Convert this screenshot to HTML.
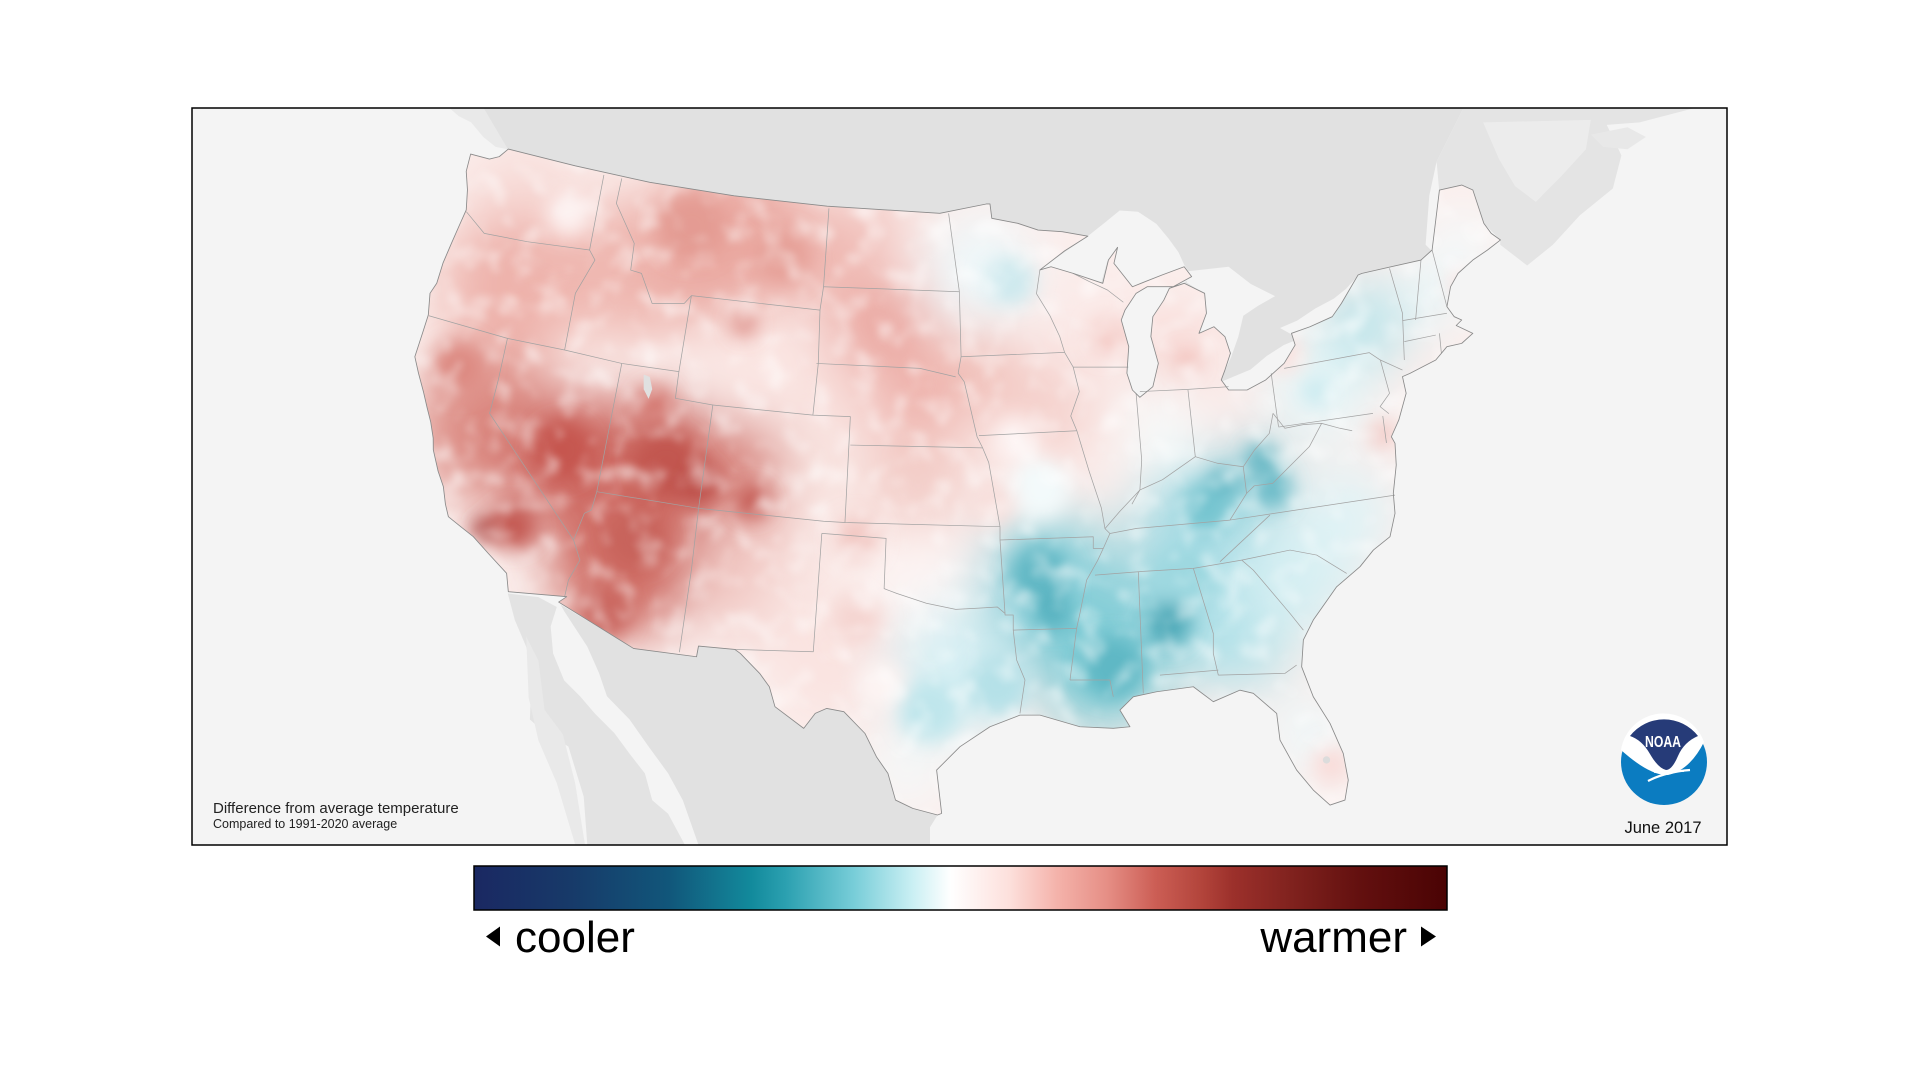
<!DOCTYPE html>
<html><head><meta charset="utf-8"><style>
html,body{margin:0;padding:0;background:#fff;width:1920px;height:1080px;overflow:hidden}
svg{display:block}
</style></head><body>
<svg width="1920" height="1080" viewBox="0 0 1920 1080" xmlns="http://www.w3.org/2000/svg">
<defs>
<clipPath id="frameclip"><rect x="156.9" y="88.26" width="1254.4" height="602.3"/></clipPath>
<clipPath id="usclip"><path d="M384.6,125.9 L400,130 L408,128 L415.4,121.8 L470,135.5 L531,149 L600,160 L676,168.5 L768,174.3 L806,166.7 L809,166.7 L810.5,178.4 L831.7,182.5 L848.3,188 L868,189.3 L889,193 L870,205 L849.8,220.6 L858.9,218 L877,223.4 L901.2,231.5 L905.8,212.5 L913.3,202.1 L910.3,215.2 L925.4,234.3 L949.6,224.7 L967.7,218 L973.8,226.1 L958.7,234.3 L937.5,234.3 L928.4,239.7 L919.4,253.3 L916.3,261.5 L922.4,283.3 L920.9,305 L925.4,318.7 L931.5,324.7 L942.1,316 L946.6,296.9 L940.5,275.1 L942.1,258.8 L951.1,245.2 L955.6,235.6 L967.7,231.5 L984.4,239.7 L985.9,256 L979.8,272.4 L992,267 L1001,275.1 L1005.5,288.7 L1001,302.4 L998,310.5 L1004,318.7 L1019.1,318.7 L1034.3,310.5 L1049.4,296.9 L1058.4,281.9 L1055.4,272.4 L1070.5,267 L1088.7,258.8 L1096.2,247.9 L1109.8,224.7 L1113,223.4 L1161.2,212.5 L1170.3,204.3 L1176.3,155.3 L1194.5,151.2 L1203.6,155.3 L1212.6,182.5 L1218.6,190.7 L1226.2,196.1 L1215.6,204.3 L1203.6,212.5 L1191.5,223.4 L1185.4,234.3 L1182.4,250.6 L1188.4,258.8 L1194.5,261.5 L1190,266 L1203.6,272.4 L1194.5,280.6 L1182.4,283.3 L1173.3,294.2 L1152.2,305.1 L1146.1,307.8 L1149.1,321.4 L1143.1,343.2 L1137,356.9 L1140,362.3 L1141,380 L1138.6,403.2 L1140,419.5 L1135.9,438.6 L1122.3,449.5 L1111.4,463.1 L1092.3,479.5 L1073.2,506.7 L1065.1,523 L1063.7,544.9 L1073.2,569.4 L1086.9,591.2 L1097.7,615.7 L1101.8,637.5 L1099.1,653.8 L1086.9,657.9 L1073.2,645.6 L1059.6,629.3 L1046,604.8 L1043.3,583 L1024.2,566.6 L1013.3,564 L991.5,573.4 L975.2,561.2 L945.2,565.3 L926.1,569.4 L915.2,580.3 L923.4,593.9 L909.8,595.2 L882.5,593.9 L849.9,584.4 L833.5,584.4 L809,593.9 L784.5,610.2 L765.4,629.3 L769.5,664.7 L766.2,666 L745.9,660.6 L731.8,653.8 L725.6,632 L716.2,618.4 L706.8,599.3 L689.6,581.6 L675.6,578.9 L666.2,583 L656.8,595.2 L633.3,577.5 L628.7,561.2 L620.8,550.3 L605,534 L600.5,530.7 L570.8,528 L569.2,536.7 L517.7,529.9 L456.5,492 L463.1,487.6 L415.4,483.5 L414,468.5 L399,452.2 L386.8,438.6 L376,430 L366.4,422.2 L364,412 L362.3,397.7 L358,385 L354.1,367.7 L354,358 L352,345 L349,333 L346,320 L342,305 L339,291.5 L346,270 L350,257.4 L351.4,239.7 L356.9,231.5 L362,215 L369,198.6 L375,185 L381,171.6 L382,155 L381,140 Z"/></clipPath>
<filter id="b1" x="0" y="0" width="1600" height="900" filterUnits="userSpaceOnUse"><feGaussianBlur stdDeviation="22"/></filter>
<filter id="b2" x="0" y="0" width="1600" height="900" filterUnits="userSpaceOnUse"><feGaussianBlur stdDeviation="8"/></filter>
<filter id="mottle" x="0" y="0" width="1600" height="900" filterUnits="userSpaceOnUse">
  <feTurbulence type="fractalNoise" baseFrequency="0.05" numOctaves="2" seed="7" result="n"/>
  <feColorMatrix in="n" type="matrix" values="0 0 0 0 1  0 0 0 0 1  0 0 0 0 1  -2.5 0 0 0 1.3"/>
  <feGaussianBlur stdDeviation="2.5"/>
</filter>
<linearGradient id="cb" x1="0" y1="0" x2="1" y2="0">
<stop offset="0" stop-color="#1a2862"/>
<stop offset="0.1" stop-color="#173a69"/>
<stop offset="0.2" stop-color="#11567a"/>
<stop offset="0.285" stop-color="#128a9c"/>
<stop offset="0.32" stop-color="#2ba0b0"/>
<stop offset="0.39" stop-color="#77cdd8"/>
<stop offset="0.45" stop-color="#c9eff3"/>
<stop offset="0.49" stop-color="#ffffff"/>
<stop offset="0.55" stop-color="#fde0dc"/>
<stop offset="0.6" stop-color="#f4b2aa"/>
<stop offset="0.65" stop-color="#e68f86"/>
<stop offset="0.7" stop-color="#cc5e55"/>
<stop offset="0.75" stop-color="#b1433a"/>
<stop offset="0.78" stop-color="#9c302b"/>
<stop offset="0.84" stop-color="#80221e"/>
<stop offset="0.91" stop-color="#63100f"/>
<stop offset="1" stop-color="#4a0304"/>
</linearGradient>
</defs>

<rect x="192" y="108" width="1535" height="737" fill="#f4f4f4"/>

<g transform="scale(1.2237)" clip-path="url(#frameclip)">
  <!-- Canada -->
  <path d="M367,88 L395,88 L415,122 L405,120 L395,112 L385,100 L375,95 Z" fill="#e9e9e9"/>
  <path d="M395,88 L1196,88 L1174,132 L1168,160 L1165,200 L1180,215 L1150,300 L1000,330 L800,200 L420,130 L415,122 Z" fill="#e1e1e1"/>
  <path d="M1196,88 L1386,88 L1340,100 L1313,102 L1325,127 L1318,154 L1291,176 L1269,200 L1248,217 L1226,200 L1226,196 L1212,182 L1203,155 L1194,151 L1176,155 L1174,132 Z" fill="#e4e4e4"/>
  <path d="M1212,100 L1300,98 L1296,122 L1275,145 L1255,165 L1238,152 L1225,130 Z" fill="#ececec"/>
  <path d="M1300,110 L1330,104 L1345,112 L1330,122 L1310,120 Z" fill="#e8e8e8"/>
  <!-- Mexico -->
  <path d="M415,485 L440,488 L455,496 L450,512 L452,534 L461,556 L474,569 L486,583 L502,599 L514.5,616 L527,632 L533,654 L546,665 L560,691 L480,691 L477,651 L464.5,610 L445.7,599 L433,588 L434.8,545 L430,528.5 L420.7,506.7 Z" fill="#e3e3e3"/>
  <path d="M430,520 L440,540 L445,580 L460,600 L470,640 L478,690 L470,690 L455,640 L440,605 L432,570 Z" fill="#e9e9e9"/>
  <path d="M458,494 L517.7,529.9 L569.2,536.7 L570.8,528 L600.5,530.7 L605,534 L620.8,550.3 L628.7,561.2 L633.3,577.5 L656.8,595.2 L666.2,583 L675.6,578.9 L689.6,581.6 L706.8,599.3 L716.2,618.4 L725.6,632 L731.8,653.8 L745.9,660.6 L766.2,666 L760,676 L760,691 L571,691 L558,654 L546,632 L530,610 L514.5,588 L496,569 L489.5,550 L480,528.5 L461.4,500 Z" fill="#e1e1e1"/>
  <!-- Great Lakes -->
  <path d="M849,221 L870,206 L889,193 L904,181 L915,172 L930,173 L945,183 L955,195 L963,206 L968,217 L974,226 L950,229 L925,236 L910,230 L905,213 L900,231 L877,224 L858,219 Z" fill="#f4f4f4"/>
  <path d="M973,226 L960,234 L930,234 L920,248 L916,262 L922,283 L921,305 L925,319 L931.5,325 L942,316 L947,297 L940,275 L942,259 L951,245 L956,236 L968,231 Z" fill="#f4f4f4"/>
  <path d="M968,222 L1004,218 L1022,232 L1042,242 L1028,250 L1016,258 L1012,275 L1006,292 L1000,305 L998,310 L1005,288 L1001,275 L992,267 L980,272 L986,256 L984,240 L970,231 Z" fill="#f4f4f4"/>
  <path d="M998,312 L1004,319 L1019,319 L1034,311 L1049,297 L1058.4,282 L1061,277 L1049,282 L1035,291 L1022,302 L1010,307 Z" fill="#f4f4f4"/>
  <path d="M1046,268 L1060,262 L1075,252 L1090,244 L1100,236 L1110,225 L1097,248 L1089,259 L1071,267 L1055,273 Z" fill="#f4f4f4"/>

  <!-- US temperature field -->
  <g clip-path="url(#usclip)">
    <rect x="330" y="110" width="910" height="570" fill="#fbeeec"/>
    <g filter="url(#b1)">
      <circle cx="430" cy="170" r="50" fill="#f8dcd8"/>
      <circle cx="420" cy="235" r="60" fill="#eeb2ab"/>
      <circle cx="520" cy="220" r="60" fill="#efb8b1"/>
      <circle cx="600" cy="200" r="70" fill="#eaa8a0"/>
      <circle cx="710" cy="210" r="50" fill="#f0bbb5"/>
      <circle cx="750" cy="205" r="30" fill="#f9e2df"/>
      <circle cx="620" cy="295" r="45" fill="#fbe6e3"/>
      <circle cx="720" cy="275" r="45" fill="#eaa59e"/>
      <circle cx="750" cy="330" r="40" fill="#eeb1aa"/>
      <circle cx="690" cy="320" r="30" fill="#f7d8d4"/>
      <circle cx="400" cy="350" r="60" fill="#dc8a82"/>
      <circle cx="470" cy="380" r="60" fill="#cf6d66"/>
      <circle cx="540" cy="385" r="60" fill="#cb665e"/>
      <circle cx="510" cy="460" r="60" fill="#cf6c64"/>
      <circle cx="610" cy="385" r="40" fill="#d98780"/>
      <circle cx="665" cy="385" r="30" fill="#f8e0dc"/>
      <circle cx="615" cy="470" r="50" fill="#f1c6c1"/>
      <circle cx="655" cy="490" r="35" fill="#f9e6e3"/>
      <circle cx="750" cy="395" r="45" fill="#f3cdc8"/>
      <circle cx="800" cy="220" r="45" fill="#eef8fa"/>
      <circle cx="880" cy="270" r="50" fill="#fbeae8"/>
      <circle cx="960" cy="290" r="35" fill="#f8d6d2"/>
      <circle cx="850" cy="335" r="45" fill="#f5d2cd"/>
      <circle cx="800" cy="300" r="30" fill="#f0bdb6"/>
      <circle cx="760" cy="480" r="50" fill="#fdf5f4"/>
      <circle cx="680" cy="540" r="50" fill="#fae3e0"/>
      <circle cx="780" cy="550" r="55" fill="#d8f0f4"/>
      <circle cx="740" cy="630" r="35" fill="#f5f8f8"/>
      <circle cx="860" cy="480" r="60" fill="#8fd2db"/>
      <circle cx="900" cy="540" r="55" fill="#79c9d3"/>
      <circle cx="960" cy="500" r="50" fill="#8ed1da"/>
      <circle cx="1010" cy="520" r="45" fill="#b3e2e9"/>
      <circle cx="980" cy="430" r="55" fill="#a9dde5"/>
      <circle cx="1010" cy="390" r="40" fill="#8fd2db"/>
      <circle cx="1060" cy="470" r="50" fill="#d5eff3"/>
      <circle cx="1100" cy="420" r="40" fill="#dff3f6"/>
      <circle cx="1070" cy="600" r="35" fill="#eef8f9"/>
      <circle cx="960" cy="350" r="40" fill="#f6fbfb"/>
      <circle cx="1000" cy="340" r="30" fill="#fbecea"/>
      <circle cx="1080" cy="315" r="45" fill="#e6f6f8"/>
      <circle cx="1115" cy="265" r="35" fill="#b9e4ea"/>
      <circle cx="1170" cy="240" r="30" fill="#e9f6f8"/>
      <circle cx="1195" cy="200" r="30" fill="#f4fafb"/>
    </g>
    <g filter="url(#b2)">
      <circle cx="395" cy="432" r="10" fill="#a33631"/>
      <circle cx="420" cy="430" r="20" fill="#c55b54"/>
      <circle cx="375" cy="300" r="22" fill="#dd8a82"/>
      <circle cx="460" cy="368" r="25" fill="#c65750"/>
      <circle cx="545" cy="380" r="28" fill="#c25750"/>
      <circle cx="570" cy="395" r="18" fill="#bd4f48"/>
      <circle cx="615" cy="410" r="14" fill="#c45a53"/>
      <circle cx="520" cy="440" r="25" fill="#c8635c"/>
      <circle cx="495" cy="500" r="22" fill="#cb6861"/>
      <circle cx="608" cy="265" r="9" fill="#d77e76"/>
      <circle cx="565" cy="185" r="28" fill="#e49b93"/>
      <circle cx="640" cy="210" r="22" fill="#e6a098"/>
      <circle cx="535" cy="330" r="14" fill="#d4776f"/>
      <circle cx="465" cy="175" r="18" fill="#fdf2f1"/>
      <circle cx="850" cy="470" r="25" fill="#62b8c5"/>
      <circle cx="860" cy="500" r="15" fill="#55b1bf"/>
      <circle cx="910" cy="545" r="25" fill="#5eb8c5"/>
      <circle cx="955" cy="510" r="18" fill="#4ea9b8"/>
      <circle cx="1000" cy="395" r="12" fill="#56b0bf"/>
      <circle cx="1040" cy="400" r="15" fill="#68bac7"/>
      <circle cx="1030" cy="375" r="12" fill="#5bb3c1"/>
      <circle cx="985" cy="415" r="20" fill="#76c5d0"/>
      <circle cx="970" cy="470" r="25" fill="#9dd8e0"/>
      <circle cx="760" cy="580" r="25" fill="#bfe6ec"/>
      <circle cx="815" cy="560" r="25" fill="#b5e1e8"/>
      <circle cx="720" cy="560" r="20" fill="#fdf4f3"/>
      <circle cx="700" cy="440" r="18" fill="#f2c7c2"/>
      <circle cx="700" cy="505" r="20" fill="#f5d5d1"/>
      <circle cx="1088" cy="625" r="15" fill="#f9dcd9"/>
      <circle cx="1130" cy="355" r="10" fill="#f1c2bd"/>
      <circle cx="1050" cy="290" r="15" fill="#fbe3e0"/>
      <circle cx="1195" cy="232" r="10" fill="#f8dcd9"/>
      <circle cx="970" cy="295" r="8" fill="#efb0a9"/>
      <circle cx="905" cy="275" r="15" fill="#f5ccc7"/>
      <circle cx="830" cy="360" r="20" fill="#fdf2f1"/>
      <circle cx="850" cy="400" r="25" fill="#f3fafb"/>
      <circle cx="810" cy="410" r="20" fill="#f8e0dd"/>
      <circle cx="825" cy="230" r="20" fill="#cde9ee"/>
      <circle cx="1075" cy="320" r="10" fill="#c3e8ee"/>
    </g>
    <rect x="330" y="110" width="910" height="570" filter="url(#mottle)" opacity="0.6"/>
    <path d="M526,306 L531,308 L533,318 L530,326 L526,318 Z" fill="#e0e0e0"/>
    <circle cx="1084" cy="621" r="3" fill="#dcdcdc"/>
  </g>

  <!-- state lines -->
  <g fill="none" stroke="#a2a2a2" stroke-width="0.6" stroke-linejoin="round">
    <polyline points="381.1,173 395.7,190.7 430.8,197.5 481.8,204.3"/>
    <polyline points="493.5,143 481.8,204.3 486.2,212.5 470.2,239.7 461.4,286"/>
    <polyline points="350.5,258 414.7,276.5 461.4,286 508.1,297 554.8,303.7"/>
    <polyline points="414.7,276.5 407.2,310.5 400.1,337.8 468.7,441.3 473.9,457.7 464.5,474 461.4,487.6"/>
    <polyline points="508.1,297 487.7,401.8 483.3,416.8 477.5,419.5 468.7,441.3"/>
    <polyline points="487.7,401.8 570.9,415.4 673,426 690.5,427 817.2,430.4"/>
    <polyline points="570.9,415.4 565,465.8 555.2,533"/>
    <polyline points="554.8,303.7 551.9,325.5 582.5,331 570.9,415.4"/>
    <polyline points="582.5,331 664.3,339.2 694.9,340.5 690.5,427"/>
    <polyline points="565,241.6 554.8,303.7"/>
    <polyline points="508.1,145.8 503.7,166.2 518.3,198.9 515.4,220.7 524.2,223.4 532.9,247.9 559.2,247.9 565,241.6 670.1,253.4"/>
    <polyline points="677.4,170.3 673,234.3 670.1,253.4 668.7,297 664.3,339.2"/>
    <polyline points="673,234.3 783.9,238.4"/>
    <polyline points="667.2,297 751.8,301 781,308"/>
    <polyline points="694.9,363.7 803,366"/>
    <polyline points="671.6,435.9 664.6,532.6 600.5,530.7"/>
    <polyline points="671.6,435.9 724.1,440 722.5,481 733,485 757,493 781,498 800,497 815,496 821.3,501.3"/>
    <polyline points="817.2,430.4 817.2,441.3 821.3,501.3 821.3,502.6 828,502.6 828,514.9 830.8,539.4 837.6,555.7 833.5,583"/>
    <polyline points="828,514.9 879.8,513.5"/>
    <polyline points="817.2,441.3 893.4,438.6 893.4,448.1 901.6,448.1"/>
    <polyline points="785.4,291.5 783,305 788,312 798.5,357 803,366 808,378 817.2,430.4"/>
    <polyline points="775.2,174.4 784,238.4 785.4,291.5"/>
    <polyline points="785.4,291.5 870,288"/>
    <polyline points="800,356 880,352"/>
    <polyline points="849.8,220.6 847,240 858,258 866,275 870,288"/>
    <polyline points="870,288 877,300 882,320 875,340 880,352 890,385 900,415 903,432 907,436 901.6,448.1 897,458 888,474 882.5,501.3 879.8,513.5 874.4,555.7"/>
    <polyline points="877,300 922,300"/>
    <polyline points="877,223.4 890,230 905,237 918,247"/>
    <polyline points="928.4,321.4 933,376 931.5,400.4 925,412"/>
    <polyline points="931.5,320 970.8,318.2 1004,316"/>
    <polyline points="970.8,318.7 976.8,373.2"/>
    <polyline points="903,432 915,418 931.5,400.4 950,392 976.8,373.2 995,378.6 1016,381.4 1025.2,367.7 1037.3,354.1 1040.3,337.8"/>
    <polyline points="1038.8,305.1 1044.8,348.7"/>
    <polyline points="1049.4,301 1119,288.2 1128,294.2 1146.1,302.4"/>
    <polyline points="1128,294.2 1135.5,321.4 1127.8,332.3 1135,338"/>
    <polyline points="1044.8,349 1122,337.8"/>
    <polyline points="1135.5,219.3 1146.1,256 1147.6,294.2"/>
    <polyline points="1161.2,212.5 1156.8,261.5"/>
    <polyline points="1170.3,204.3 1182.4,250.6"/>
    <polyline points="1146,262 1182.4,256"/>
    <polyline points="1147.6,279.2 1173.3,273.8"/>
    <polyline points="1176.3,272.4 1177.9,288.7"/>
    <polyline points="1040.3,337.8 1050,350 1065,347 1080,346 1095,350 1105,352"/>
    <polyline points="1080,346 1070,365 1055,380 1040,395 1025,397 1018.7,403.2"/>
    <polyline points="1016,381.4 1018.7,403.2 1005.1,425"/>
    <polyline points="907,436 928.9,431.8 1005.1,425 1140,404.6"/>
    <polyline points="1037.8,420.9 997,459"/>
    <polyline points="894.8,470 930.2,467.2 975.2,464.5 1014.7,457.7"/>
    <polyline points="930.2,467.2 934.3,566.6"/>
    <polyline points="975.2,464.5 991.5,517.6 991.5,534 995.6,551.7"/>
    <polyline points="947.9,551.7 995.6,547.6"/>
    <polyline points="995.6,551.7 1050,550.3 1059.6,543.5"/>
    <polyline points="1014.7,457.7 1024.2,465.9 1054.2,501.3 1065.1,514.9"/>
    <polyline points="1014.7,457.7 1054.2,449.5 1076,453.6 1100.5,468.6"/>
    <polyline points="874.4,555.7 907,555.7 909.8,569.4"/>
    <polyline points="1130,340 1133,362"/>
  </g>
  <!-- US outline -->
  <path fill="none" stroke="#8a8a8a" stroke-width="0.7" stroke-linejoin="round" d="M384.6,125.9 L400,130 L408,128 L415.4,121.8 L470,135.5 L531,149 L600,160 L676,168.5 L768,174.3 L806,166.7 L809,166.7 L810.5,178.4 L831.7,182.5 L848.3,188 L868,189.3 L889,193 L870,205 L849.8,220.6 L858.9,218 L877,223.4 L901.2,231.5 L905.8,212.5 L913.3,202.1 L910.3,215.2 L925.4,234.3 L949.6,224.7 L967.7,218 L973.8,226.1 L958.7,234.3 L937.5,234.3 L928.4,239.7 L919.4,253.3 L916.3,261.5 L922.4,283.3 L920.9,305 L925.4,318.7 L931.5,324.7 L942.1,316 L946.6,296.9 L940.5,275.1 L942.1,258.8 L951.1,245.2 L955.6,235.6 L967.7,231.5 L984.4,239.7 L985.9,256 L979.8,272.4 L992,267 L1001,275.1 L1005.5,288.7 L1001,302.4 L998,310.5 L1004,318.7 L1019.1,318.7 L1034.3,310.5 L1049.4,296.9 L1058.4,281.9 L1055.4,272.4 L1070.5,267 L1088.7,258.8 L1096.2,247.9 L1109.8,224.7 L1113,223.4 L1161.2,212.5 L1170.3,204.3 L1176.3,155.3 L1194.5,151.2 L1203.6,155.3 L1212.6,182.5 L1218.6,190.7 L1226.2,196.1 L1215.6,204.3 L1203.6,212.5 L1191.5,223.4 L1185.4,234.3 L1182.4,250.6 L1188.4,258.8 L1194.5,261.5 L1190,266 L1203.6,272.4 L1194.5,280.6 L1182.4,283.3 L1173.3,294.2 L1152.2,305.1 L1146.1,307.8 L1149.1,321.4 L1143.1,343.2 L1137,356.9 L1140,362.3 L1141,380 L1138.6,403.2 L1140,419.5 L1135.9,438.6 L1122.3,449.5 L1111.4,463.1 L1092.3,479.5 L1073.2,506.7 L1065.1,523 L1063.7,544.9 L1073.2,569.4 L1086.9,591.2 L1097.7,615.7 L1101.8,637.5 L1099.1,653.8 L1086.9,657.9 L1073.2,645.6 L1059.6,629.3 L1046,604.8 L1043.3,583 L1024.2,566.6 L1013.3,564 L991.5,573.4 L975.2,561.2 L945.2,565.3 L926.1,569.4 L915.2,580.3 L923.4,593.9 L909.8,595.2 L882.5,593.9 L849.9,584.4 L833.5,584.4 L809,593.9 L784.5,610.2 L765.4,629.3 L769.5,664.7 L766.2,666 L745.9,660.6 L731.8,653.8 L725.6,632 L716.2,618.4 L706.8,599.3 L689.6,581.6 L675.6,578.9 L666.2,583 L656.8,595.2 L633.3,577.5 L628.7,561.2 L620.8,550.3 L605,534 L600.5,530.7 L570.8,528 L569.2,536.7 L517.7,529.9 L456.5,492 L463.1,487.6 L415.4,483.5 L414,468.5 L399,452.2 L386.8,438.6 L376,430 L366.4,422.2 L364,412 L362.3,397.7 L358,385 L354.1,367.7 L354,358 L352,345 L349,333 L346,320 L342,305 L339,291.5 L346,270 L350,257.4 L351.4,239.7 L356.9,231.5 L362,215 L369,198.6 L375,185 L381,171.6 L382,155 L381,140 Z"/>
</g>

<!-- frame -->
<rect x="192" y="108" width="1535" height="737" fill="none" stroke="#000" stroke-width="1.5"/>

<!-- bottom-left caption -->
<text x="213" y="813" font-family="Liberation Sans, sans-serif" font-size="15" fill="#222">Difference from average temperature</text>
<text x="213" y="828" font-family="Liberation Sans, sans-serif" font-size="12.5" fill="#222">Compared to 1991-2020 average</text>

<!-- NOAA logo -->
<circle cx="1664" cy="762" r="43" fill="#0b7cc1"/>
<path d="M1621,750 Q1650,776 1668,775 Q1690,770 1704,742 A43,43 0 0 0 1621,750 Z" fill="#ffffff"/>
<path d="M1630,736 A43,43 0 0 1 1698,736 Q1684,742 1678,756 Q1672,770 1666,770 Q1658,768 1650,754 Q1642,740 1630,736 Z" fill="#263b78"/>
<path d="M1648,781 Q1665,772 1690,770" fill="none" stroke="#fff" stroke-width="2.2"/>
<path d="M1654,772 L1684,771" fill="none" stroke="#fff" stroke-width="1.8"/>
<text x="1645" y="747" font-family="Liberation Sans, sans-serif" font-size="16" font-weight="bold" fill="#fff" textLength="36" lengthAdjust="spacingAndGlyphs">NOAA</text>

<text x="1663" y="833" text-anchor="middle" font-family="Liberation Sans, sans-serif" font-size="16.5" fill="#111">June 2017</text>

<!-- colorbar -->
<rect x="474" y="866" width="973" height="44" fill="url(#cb)" stroke="#000" stroke-width="1.5"/>
<polygon points="486,936.5 500,926.5 500,946.5" fill="#000"/>
<polygon points="1436,936.5 1421,926.5 1421,946.5" fill="#000"/>
<text x="515" y="952" font-family="Liberation Sans, sans-serif" font-size="44" fill="#000">cooler</text>
<text x="1407" y="952" text-anchor="end" font-family="Liberation Sans, sans-serif" font-size="44" fill="#000">warmer</text>
</svg>
</body></html>
